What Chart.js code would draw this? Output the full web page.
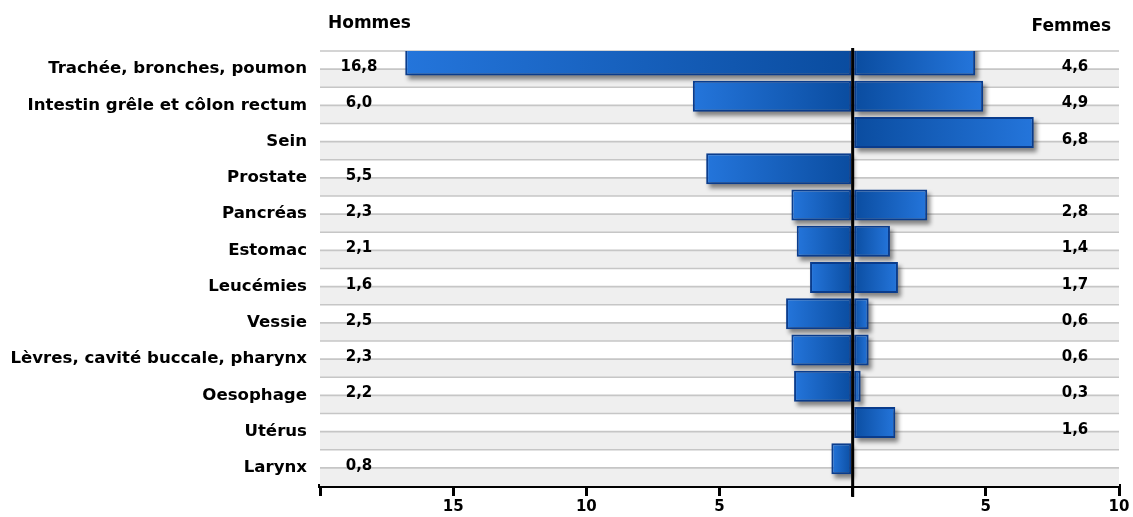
<!DOCTYPE html>
<html lang="fr">
<head>
<meta charset="utf-8">
<script src="https://cdn.jsdelivr.net/npm/chart.js@4.4.1/dist/chart.umd.min.js"></script>
<style>
  body { margin: 0; background: #fff; }
  #wrap { width: 1133px; height: 517px; position: relative; }
</style>
</head>
<body>
<div id="wrap"><canvas id="cancerChart"></canvas></div>
<script>
const categories = [
    "Trachée, bronches, poumon",
    "Intestin grêle et côlon rectum",
    "Sein",
    "Prostate",
    "Pancréas",
    "Estomac",
    "Leucémies",
    "Vessie",
    "Lèvres, cavité buccale, pharynx",
    "Oesophage",
    "Utérus",
    "Larynx"
];
const hommes = [16.8, 6.0, null, 5.5, 2.3, 2.1, 1.6, 2.5, 2.3, 2.2, null, 0.8];
const femmes = [4.6, 4.9, 6.8, null, 2.8, 1.4, 1.7, 0.6, 0.6, 0.3, 1.6, null];
const xTicks = [-20, -15, -10, -5, 0, 5, 10];
const xTickLabels = ["", "15", "10", "5", "", "5", "10"];

const FONT = "'DejaVu Sans', sans-serif";

function fmt(v) {
    return v.toFixed(1).replace(".", ",");
}

// gradient per bar: dark near the centre line, lighter at the outer end
function barFill(c) {
    const chart = c.chart;
    const xs = chart.scales.x;
    if (c.raw == null || !xs) return "#1761c4";
    const x0 = xs.getPixelForValue(0);
    const x1 = xs.getPixelForValue(c.raw);
    if (!isFinite(x0) || !isFinite(x1) || x0 === x1) return "#1761c4";
    const g = chart.ctx.createLinearGradient(x0, 0, x1, 0);
    g.addColorStop(0, "#0a4c9f");
    g.addColorStop(1, "#2475db");
    return g;
}

// grey stripes + grid lines, then a soft drop shadow under each bar
const background = {
    id: "background",
    beforeDatasetsDraw(chart) {
        const { ctx, chartArea, scales } = chart;
        const y = scales.y;
        const half = (y.getPixelForValue(1) - y.getPixelForValue(0)) / 2;
        ctx.save();
        categories.forEach((_, i) => {
            const c = y.getPixelForValue(i);
            ctx.fillStyle = "#efefef";
            ctx.fillRect(chartArea.left, c, chartArea.right - chartArea.left, half);
        });
        ctx.strokeStyle = "#c6c6c6";
        ctx.lineWidth = 1.6;
        categories.forEach((_, i) => {
            const c = y.getPixelForValue(i);
            [c - half, c].forEach(p => {
                ctx.beginPath();
                ctx.moveTo(chartArea.left, p);
                ctx.lineTo(chartArea.right, p);
                ctx.stroke();
            });
        });

        ctx.beginPath();
        ctx.rect(chartArea.left, chartArea.top, chartArea.right - chartArea.left, chartArea.bottom - chartArea.top + 6);
        ctx.clip();
        ctx.filter = "blur(2px)";
        ctx.fillStyle = "rgba(0,0,0,0.45)";
        [0, 1].forEach(d => {
            chart.getDatasetMeta(d).data.forEach(el => {
                const p = el.getProps(["x", "y", "base", "height"], true);
                if (!isFinite(p.x) || p.x === p.base) return;
                const l = Math.min(p.x, p.base), r = Math.max(p.x, p.base);
                ctx.fillRect(l + 3, p.y - p.height / 2 + 4, r - l, p.height);
            });
        });
        ctx.restore();
    }
};

const overlay = {
    id: "overlay",
    afterDatasetsDraw(chart) {
        const { ctx, chartArea, scales } = chart;
        const x = scales.x, y = scales.y;
        ctx.save();
        // centre line
        const x0 = x.getPixelForValue(0);
        ctx.fillStyle = "#000";
        ctx.fillRect(x0 - 1.5, chartArea.top - 3, 3, chartArea.bottom - chartArea.top + 14);

        // values
        ctx.font = "bold 15px " + FONT;
        ctx.fillStyle = "#000";
        ctx.textAlign = "center";
        ctx.textBaseline = "middle";
        categories.forEach((_, i) => {
            const py = y.getPixelForValue(i) - 2;
            if (hommes[i] != null) ctx.fillText(fmt(hommes[i]), chartArea.left + 39, py);
            if (femmes[i] != null) ctx.fillText(fmt(femmes[i]), chartArea.right - 44, py);
        });

        // headers
        ctx.font = "bold 17px " + FONT;
        ctx.textAlign = "left";
        ctx.fillText("Hommes", chartArea.left + 8, 24);
        ctx.textAlign = "right";
        ctx.fillText("Femmes", chartArea.right - 8, 27);
        ctx.restore();
    }
};

new Chart(document.getElementById("cancerChart"), {
    type: "bar",
    data: {
        labels: categories,
        datasets: [
            {
                label: "Hommes",
                data: hommes.map(v => v == null ? null : -v),
                stack: "a",
                backgroundColor: barFill,
                borderColor: "#0a3c8c",
                borderWidth: 2,
                borderSkipped: false
            },
            {
                label: "Femmes",
                data: femmes,
                stack: "a",
                backgroundColor: barFill,
                borderColor: "#0a3c8c",
                borderWidth: 2,
                borderSkipped: false
            },
            {
                // empty slot that pushes the bars into the upper half of each row
                label: "",
                data: categories.map(() => 0),
                stack: "b",
                backgroundColor: "rgba(0,0,0,0)",
                borderWidth: 0
            }
        ]
    },
    options: {
        indexAxis: "y",
        responsive: true,
        maintainAspectRatio: false,
        animation: false,
        categoryPercentage: 1,
        barPercentage: 1.71,
        layout: { padding: { top: 51, right: 14, left: 0, bottom: 0 } },
        plugins: {
            legend: { display: false },
            tooltip: { enabled: false }
        },
        scales: {
            x: {
                min: -20,
                max: 10,
                afterBuildTicks: (s) => { s.ticks = xTicks.map(v => ({ value: v })); },
                afterFit: (s) => { s.height = 31; },
                ticks: {
                    autoSkip: false,
                    maxRotation: 0,
                    padding: 2,
                    color: "#000",
                    font: { family: FONT, size: 15, weight: "bold" },
                    callback: (v, i) => xTickLabels[i]
                },
                grid: {
                    drawOnChartArea: false,
                    drawTicks: true,
                    tickLength: 10,
                    color: "#000",
                    lineWidth: 3
                },
                border: { display: true, color: "#000", width: 4 }
            },
            y: {
                afterFit: (s) => { s.width = 320; },
                ticks: {
                    padding: 5,
                    color: "#000",
                    font: { family: FONT, size: 16.6, weight: "bold" }
                },
                grid: { display: false },
                border: { display: false }
            }
        }
    },
    plugins: [background, overlay]
});
</script>
</body>
</html>
